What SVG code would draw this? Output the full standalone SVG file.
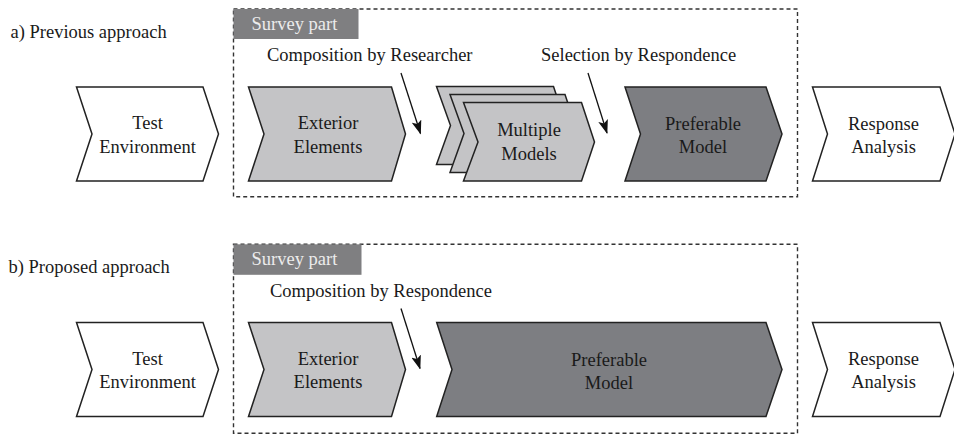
<svg xmlns="http://www.w3.org/2000/svg" width="954" height="435" viewBox="0 0 954 435">
<defs>
<marker id="ah" viewBox="0 0 14 10" refX="13" refY="5" markerWidth="14" markerHeight="10" markerUnits="userSpaceOnUse" orient="auto">
<path d="M0,0 L14,5 L0,10 L3,5 Z" fill="#111"/>
</marker>
</defs>
<style>
text{font-size:18.5px;fill:#1a1a1a}
.c{text-anchor:middle}
.chev{stroke:#222;stroke-width:1.5;stroke-linejoin:miter}
.white{fill:#ffffff}
.light{fill:#c4c4c6}
.dark{fill:#7d7e82}
.frame{fill:none;stroke:#333;stroke-width:1.4;stroke-dasharray:4 3}
.tag{fill:#7f7f81}
.tagt{fill:#ececec}
.conn{stroke:#111;stroke-width:1.3;fill:none;marker-end:url(#ah)}
</style>
<rect width="954" height="435" fill="#ffffff"/>

<g id="titleA" style="font-family:'Liberation Serif'">
<text x="10.5" y="37.5">a) Previous approach</text>
</g>
<g id="surveyA" style="font-family:'Liberation Serif'">
<rect class="frame" x="233.5" y="9" width="564" height="187.7"/>
<rect class="tag" x="233.5" y="9" width="125" height="30"/>
<text class="tagt" x="251.5" y="29.5">Survey part</text>
</g>
<g id="labelsA" style="font-family:'Liberation Serif'">
<text x="267" y="61">Composition by Researcher</text>
<text x="541" y="61">Selection by Respondence</text>
</g>

<g id="testEnvA" style="font-family:'Liberation Serif'">
<polygon class="chev white" points="76.5,87 203,87 218.5,134 203,181 76.5,181 92,134"/>
<text class="c" x="147.5" y="129">Test</text>
<text class="c" x="147.5" y="152.5">Environment</text>
</g>
<g id="exteriorA" style="font-family:'Liberation Serif'">
<polygon class="chev light" points="248.5,87 391.5,87 405.5,134 391.5,181 248.5,181 264,134"/>
<text class="c" x="328" y="129">Exterior</text>
<text class="c" x="328" y="152.5">Elements</text>
</g>
<g id="multipleA" style="font-family:'Liberation Serif'">
<polygon class="chev light" points="436.5,86.5 553.5,86.5 566.5,125.5 553.5,164.5 436.5,164.5 450.5,125.5"/>
<polygon class="chev light" points="450,94.5 565,94.5 578,133.5 565,172.5 450,172.5 464,133.5"/>
<polygon class="chev light" points="463.5,102.5 581.5,102.5 594.5,142 581.5,181 463.5,181 478,142"/>
<text class="c" x="529" y="136">Multiple</text>
<text class="c" x="529" y="159.5">Models</text>
</g>
<g id="preferableA" style="font-family:'Liberation Serif'">
<polygon class="chev dark" points="625,87 766,87 782,134 766,181 625,181 640.5,134"/>
<text class="c" x="703" y="129.5">Preferable</text>
<text class="c" x="703" y="152.5">Model</text>
</g>
<g id="responseA" style="font-family:'Liberation Serif'">
<polygon class="chev white" points="812.5,87 940,87 955,134 940,181 812.5,181 827.5,134"/>
<text class="c" x="883.5" y="129.5">Response</text>
<text class="c" x="883.5" y="152.5">Analysis</text>
</g>

<g id="titleB" style="font-family:'Liberation Serif'">
<text x="8.5" y="273">b) Proposed approach</text>
</g>
<g id="surveyB" style="font-family:'Liberation Serif'">
<rect class="frame" x="233.5" y="244.3" width="564" height="189"/>
<rect class="tag" x="233.5" y="244.3" width="128" height="30.5"/>
<text class="tagt" x="251.5" y="265">Survey part</text>
</g>
<g id="labelsB" style="font-family:'Liberation Serif'">
<text x="270" y="296.5">Composition by Respondence</text>
</g>

<g id="testEnvB" style="font-family:'Liberation Serif'">
<polygon class="chev white" points="76.5,322.5 203,322.5 218.5,369.5 203,416.5 76.5,416.5 92,369.5"/>
<text class="c" x="147.5" y="364.5">Test</text>
<text class="c" x="147.5" y="388">Environment</text>
</g>
<g id="exteriorB" style="font-family:'Liberation Serif'">
<polygon class="chev light" points="248.5,322.5 391.5,322.5 405.5,369.5 391.5,416.5 248.5,416.5 264,369.5"/>
<text class="c" x="328" y="364.5">Exterior</text>
<text class="c" x="328" y="388">Elements</text>
</g>
<g id="preferableB" style="font-family:'Liberation Serif'">
<polygon class="chev dark" points="436.7,322.5 766,322.5 782,369.5 766,416.5 436.7,416.5 452,369.5"/>
<text class="c" x="609" y="366">Preferable</text>
<text class="c" x="609" y="389">Model</text>
</g>
<g id="responseB" style="font-family:'Liberation Serif'">
<polygon class="chev white" points="812.5,322.5 940,322.5 955,369.5 940,416.5 812.5,416.5 827.5,369.5"/>
<text class="c" x="883.5" y="365">Response</text>
<text class="c" x="883.5" y="388">Analysis</text>
</g>

<g id="connectors">
<line class="conn" x1="401" y1="73" x2="420.5" y2="133.5"/>
<line class="conn" x1="588" y1="73" x2="607" y2="133"/>
<line class="conn" x1="401" y1="308.5" x2="420" y2="368.5"/>
</g>
</svg>
